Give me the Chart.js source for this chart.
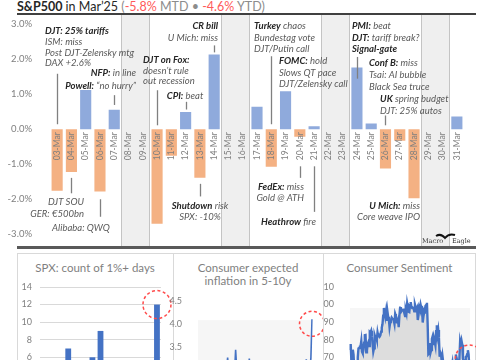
<!DOCTYPE html>
<html>
<head>
<meta charset="utf-8">
<script src="https://cdn.jsdelivr.net/npm/chart.js@4.4.0/dist/chart.umd.min.js"></script>
<style>
  body { margin: 0; width: 485px; height: 360px; overflow: hidden; background: #fff; position: relative; font-family: Lato, sans-serif; }
  canvas, .abs { position: absolute; }
  .rule { background: #404040; }
  .panel { border: 1px solid #d9d9d9; box-sizing: border-box; }
  .ptitle { color: #7f7f7f; font-size: 11.5px; text-align: center; line-height: 13px; }
</style>
</head>
<body>

<div class="abs" style="left:17px;top:-1px;font-size:12.5px;color:#262626;white-space:nowrap">
  <b>S&amp;P500</b> in Mar’25 <span style="color:#8c8c8c">(<span style="color:#ff5a5a">-5.8%</span> MTD • <span style="color:#ff5a5a">-4.6%</span> YTD)</span>
</div>
<div class="abs rule" style="left:17px;top:13px;width:459px;height:2px"></div>
<div class="abs rule" style="left:17px;top:246px;width:459px;height:3px;background:#595959"></div>

<div class="abs panel" style="left:17px;top:253px;width:157px;height:120px"></div>
<div class="abs panel" style="left:173px;top:253px;width:151px;height:120px"></div>
<div class="abs panel" style="left:323px;top:253px;width:153px;height:120px"></div>

<div class="abs ptitle" style="left:17px;top:261px;width:156px">SPX: count of 1%+ days</div>
<div class="abs ptitle" style="left:173px;top:261px;width:150px">Consumer expected<br>inflation in 5-10y</div>
<div class="abs ptitle" style="left:323px;top:261px;width:153px">Consumer Sentiment</div>

<canvas id="mainChart" width="485" height="250" style="left:0;top:0"></canvas>
<canvas id="bigDays" width="156" height="200" style="left:17px;top:253px"></canvas>
<canvas id="inflExp" width="158" height="200" style="left:165px;top:253px"></canvas>
<canvas id="sentiment" width="153" height="200" style="left:323px;top:253px"></canvas>

<script>
// daily S&P500 moves, March 2025 (null = weekend)
const dayLabels = ['03-Mar','04-Mar','05-Mar','06-Mar','07-Mar','08-Mar','09-Mar','10-Mar','11-Mar','12-Mar',
  '13-Mar','14-Mar','15-Mar','16-Mar','17-Mar','18-Mar','19-Mar','20-Mar','21-Mar','22-Mar','23-Mar',
  '24-Mar','25-Mar','26-Mar','27-Mar','28-Mar','29-Mar','30-Mar','31-Mar'];
const dailyReturns = [-1.76, -1.22, 1.12, -1.78, 0.55, null, null, -2.70, -0.76, 0.49,
  -1.39, 2.13, null, null, 0.64, -1.07, 1.08, -0.22, 0.08, null, null,
  1.76, 0.16, -1.12, -0.33, -1.97, null, null, 0.36];
const yTicksMain = [-3, -2, -1, 0, 1, 2, 3];

// event notes: at = day index, v = % level of first line, **bold**
const notes = [
  { at: -0.85, v: 2.81, align: 'left', gap: 10.9, lines: ['**DJT: 25% tariffs**', 'ISM: miss', 'Post DJT-Zelensky mtg', 'DAX +2.6%'] },
  { at: 5.53, v: 1.61, align: 'right', gap: 13, lines: ['**NFP:** in line', '**Powell:** “no hurry”'] },
  { at: 11.27, v: 2.94, align: 'right', gap: 12, lines: ['**CR bill**', 'U Mich: miss'] },
  { at: 6.02, v: 1.97, align: 'left', gap: 10.6, lines: ['**DJT on Fox:**', 'doesn’t rule', 'out recession'] },
  { at: 8.96, v: 0.94, align: 'center', gap: 11, lines: ['**CPI:** beat'] },
  { at: 13.79, v: 2.94, align: 'left', gap: 11.5, lines: ['**Turkey** chaos', 'Bundestag vote', 'DJT/Putin call'] },
  { at: 15.54, v: 1.94, align: 'left', gap: 11.5, lines: ['**FOMC:** hold', 'Slows QT pace', 'DJT/Zelensky call'] },
  { at: 20.65, v: 2.94, align: 'left', gap: 11.5, lines: ['**PMI:** beat', '**DJT:** tariff break?', '**Signal-gate**'] },
  { at: 21.85, v: 1.89, align: 'left', gap: 12, lines: ['**Conf B:** miss', 'Tsai: AI bubble', 'Black Sea truce'] },
  { at: 22.62, v: 0.86, align: 'left', gap: 12, lines: ['**UK** spring budget', 'DJT: 25% autos'] },
  { at: 1.88, v: -2.08, align: 'right', gap: 12, lines: ['DJT SOU', 'GER: €500bn'] },
  { at: 1.67, v: -2.81, align: 'center', gap: 11, lines: ['Alibaba: QWQ'] },
  { at: 10.01, v: -2.19, align: 'center', gap: 11, lines: ['**Shutdown** risk', 'SPX: -10%'] },
  { at: 17.29, v: -1.64, align: 'right', gap: 11, lines: ['**FedEx:** miss', 'Gold @ ATH'] },
  { at: 18.13, v: -2.64, align: 'right', gap: 11, lines: ['**Heathrow** fire'] },
  { at: 25.42, v: -2.19, align: 'right', gap: 11, lines: ['**U Mich:** miss', 'Core weave IPO'] }
];
// leader lines: day index, from %, to %
const leaders = [
  [0, 1.58, 0.14], [4, 0.97, 0.69], [11, 2.39, 2.19], [7, 1.11, 0.11], [9, 0.78, 0.56],
  [15, 2.08, 0.14], [21, 2.06, 1.44], [23, 0.39, 0.11],
  [1, -1.39, -1.83], [3, -2.0, -2.5], [10, -1.56, -1.92], [17, -1.06, -1.39], [18, -1.06, -2.36]
];

// SPX count of 1%+ days per month
const bigDayMonths = ['Jan-24','Feb-24','Mar-24','Apr-24','May-24','Jun-24','Jul-24','Aug-24','Sep-24','Oct-24',
  'Nov-24','Dec-24','Jan-25','Feb-25','Mar-25'];
const bigDayCounts = [2, 1, 0, 7, 3, 1, 6, 9, 4, 3, 3, 4, 5, 3, 12];

// UMich 5-10y inflation expectations, quarterly 2000Q1..2025Q1
const inflQuarters = [];
for (let yr = 2000; yr <= 2025; yr++) for (let q = 1; q <= 4; q++) if (yr < 2025 || q === 1) inflQuarters.push(yr + 'Q' + q);
const inflExpect = [
  2.9, 2.8, 2.7, 2.8,  2.9, 2.8, 2.8, 2.7,  2.8, 2.9, 2.8, 2.7,  2.8, 2.8, 2.7, 2.8,
  2.8, 2.9, 2.9, 2.9,  2.9, 2.9, 3.0, 3.1,  3.0, 3.0, 3.26, 2.9,  2.9, 3.0, 2.9, 3.0,
  2.9, 3.43, 3.0, 2.9,  2.8, 2.9, 2.9, 2.8,  2.9, 2.9, 2.8, 2.8,  2.9, 3.24, 2.9, 2.7,
  2.8, 2.8, 2.8, 2.7,  2.9, 2.8, 2.8, 2.7,  2.8, 2.7, 2.7, 2.6,  2.5, 2.7, 2.6, 2.6,
  2.5, 2.5, 2.4, 2.5,  2.5, 2.5, 2.5, 2.5,  2.5, 2.5, 2.4, 2.5,  2.5, 2.3, 2.3, 2.3,
  2.4, 2.5, 2.6, 2.6,  2.7, 2.9, 2.9, 2.9,  3.0, 3.1, 2.8, 2.9,  2.9, 3.0, 3.0, 3.22,
  2.9, 3.0, 3.0, 3.24,  4.1
];

// UMich consumer sentiment, monthly Jan-2011..Mar-2025
const sentiment = [
  74.2, 77.5, 67.5, 69.8, 74.3, 71.5, 63.7, 55.8, 59.5, 60.8, 63.7, 69.9,
  75.0, 75.3, 76.2, 76.4, 79.3, 73.2, 72.3, 74.3, 78.3, 82.6, 82.7, 72.9,
  73.8, 77.6, 78.6, 76.4, 84.5, 84.1, 85.1, 82.1, 77.5, 73.2, 75.1, 82.5,
  81.2, 81.6, 80.0, 84.1, 81.9, 82.5, 81.8, 82.5, 84.6, 86.9, 88.8, 93.6,
  98.1, 95.4, 93.0, 95.9, 90.7, 96.1, 93.1, 91.9, 87.2, 90.0, 91.3, 92.6,
  92.0, 91.7, 91.0, 89.0, 94.7, 93.5, 90.0, 89.8, 91.2, 87.2, 93.8, 98.2,
  98.5, 96.3, 96.9, 97.0, 97.1, 95.0, 93.4, 96.8, 95.1, 100.7, 98.5, 95.9,
  95.7, 99.7, 101.4, 98.8, 98.0, 98.2, 97.9, 96.2, 100.1, 98.6, 97.5, 98.3,
  91.2, 93.8, 98.4, 97.2, 100.0, 98.2, 98.4, 89.8, 93.2, 95.5, 96.8, 99.3,
  99.8, 101.0, 89.1, 71.8, 72.3, 78.1, 72.5, 74.1, 80.4, 81.8, 76.9, 80.7,
  79.0, 76.8, 84.9, 88.3, 82.9, 85.5, 81.2, 70.3, 72.8, 71.7, 67.4, 70.6,
  67.2, 62.8, 59.4, 65.2, 58.4, 50.0, 51.5, 58.2, 58.6, 59.9, 56.8, 59.7,
  64.9, 67.0, 62.0, 63.5, 59.0, 64.4, 71.6, 69.5, 67.9, 63.8, 61.3, 69.7,
  79.0, 76.9, 79.4, 77.2, 69.1, 68.2, 66.4, 67.9, 70.1, 70.5, 71.8, 74.0,
  71.7, 64.7, 57.0
];
const sentMonths = sentiment.map((_, i) => (2011 + Math.floor(i / 12)) + '-' + String(i % 12 + 1).padStart(2, '0'));

const FONT = 'Lato, sans-serif';
const GREY = '#7f7f7f';
const POS = '#8faadc';
const NEG = '#f4b183';

function catPx(xs, idx) {
  const a = xs.getPixelForValue(0), b = xs.getPixelForValue(1);
  return a + idx * (b - a);
}

// weekend bands behind the bars
const weekendPlugin = {
  id: 'weekends',
  beforeDatasetsDraw(chart) {
    const { ctx, scales: { x } } = chart;
    const w = catPx(x, 1) - catPx(x, 0);
    ctx.save();
    let i = 0;
    while (i < dailyReturns.length) {
      if (dailyReturns[i] !== null) { i++; continue; }
      let j = i;
      while (j + 1 < dailyReturns.length && dailyReturns[j + 1] === null) j++;
      const l = catPx(x, i) - w / 2, r = catPx(x, j) + w / 2;
      ctx.fillStyle = '#efefef';
      ctx.fillRect(l, 15, r - l, 231);
      ctx.strokeStyle = '#c4c4c4';
      ctx.lineWidth = 1;
      ctx.beginPath();
      ctx.moveTo(Math.round(l) + 0.5, 15); ctx.lineTo(Math.round(l) + 0.5, 246);
      ctx.moveTo(Math.round(r) - 0.5, 15); ctx.lineTo(Math.round(r) - 0.5, 246);
      ctx.stroke();
      i = j + 1;
    }
    ctx.restore();
  }
};

function drawRich(ctx, text, x, y, align) {
  const parts = text.split('**');
  const segs = parts.map((t, k) => ({ t, bold: k % 2 === 1 })).filter(s => s.t.length);
  const fontOf = s => (s.bold ? 'italic bold ' : 'italic ') + '9.5px ' + FONT;
  let total = 0;
  segs.forEach(s => { ctx.font = fontOf(s); s.w = ctx.measureText(s.t).width; total += s.w; });
  let cx = align === 'left' ? x : align === 'right' ? x - total : x - total / 2;
  segs.forEach(s => {
    ctx.font = fontOf(s);
    ctx.fillStyle = s.bold ? '#262626' : '#595959';
    ctx.fillText(s.t, cx, y);
    cx += s.w;
  });
}

const overlayPlugin = {
  id: 'overlay',
  afterDatasetsDraw(chart) {
    const { ctx, scales: { x, y } } = chart;
    const y0 = y.getPixelForValue(0);
    ctx.save();
    // day labels sitting on the zero line
    ctx.font = '8.5px ' + FONT;
    ctx.fillStyle = GREY;
    ctx.textAlign = 'right';
    ctx.textBaseline = 'middle';
    dayLabels.forEach((lab, i) => {
      ctx.save();
      ctx.translate(catPx(x, i), y0 + 3);
      ctx.rotate(-Math.PI / 2);
      ctx.fillText(lab, 0, 0);
      ctx.restore();
    });
    // leader lines
    ctx.strokeStyle = '#808080';
    ctx.lineWidth = 1.3;
    leaders.forEach(([i, a, b]) => {
      const px = Math.round(catPx(x, i)) + 0.5;
      ctx.beginPath();
      ctx.moveTo(px, y.getPixelForValue(a));
      ctx.lineTo(px, y.getPixelForValue(b));
      ctx.stroke();
    });
    // notes
    ctx.textAlign = 'left';
    notes.forEach(n => {
      const px = catPx(x, n.at);
      const py = y.getPixelForValue(n.v);
      n.lines.forEach((ln, k) => drawRich(ctx, ln, px, py + k * n.gap, n.align));
    });
    // Macro Eagle tag
    ctx.fillStyle = '#333';
    ctx.font = '6.5px "DejaVu Serif", serif';
    ctx.fillText('Macro', 422, 241);
    ctx.fillText('Eagle', 452, 241);
    ctx.beginPath();
    ctx.moveTo(436, 236);
    ctx.quadraticCurveTo(441, 233, 445, 238);
    ctx.quadraticCurveTo(449, 233, 455, 235);
    ctx.lineWidth = 2;
    ctx.strokeStyle = '#111';
    ctx.stroke();
    ctx.restore();
  }
};

new Chart(document.getElementById('mainChart'), {
  type: 'bar',
  data: {
    labels: dayLabels,
    datasets: [{
      data: dailyReturns,
      backgroundColor: dailyReturns.map(v => (v !== null && v >= 0 ? POS : NEG)),
      barPercentage: 0.78,
      categoryPercentage: 1
    }]
  },
  options: {
    responsive: false,
    animation: false,
    layout: { padding: { top: 24, right: 21, bottom: 10, left: 0 } },
    plugins: { legend: { display: false }, tooltip: { enabled: false } },
    scales: {
      x: { display: false },
      y: {
        min: -3, max: 3,
        afterBuildTicks: s => { s.ticks = yTicksMain.map(v => ({ value: v })); },
        afterFit: s => { s.width = 50; },
        ticks: { padding: 10, color: GREY, font: { family: FONT, size: 9.5 }, callback: v => v.toFixed(1) + '%' },
        grid: { display: false },
        border: { display: false }
      }
    }
  },
  plugins: [weekendPlugin, overlayPlugin]
});

// dashed red ring around a point
const ringPlugin = {
  id: 'ring',
  afterDatasetsDraw(chart, args, opts) {
    const { ctx, scales: { x, y } } = chart;
    ctx.save();
    ctx.strokeStyle = '#ff4b4b';
    ctx.lineWidth = 1.5;
    ctx.setLineDash([3, 2.5]);
    ctx.beginPath();
    ctx.arc(catPx(x, opts.index), y.getPixelForValue(opts.value), opts.r, 0, Math.PI * 2);
    ctx.stroke();
    ctx.restore();
  }
};
// faint plot fill
const shadePlugin = {
  id: 'shade',
  beforeDatasetsDraw(chart, args, opts) {
    if (opts.from === undefined) return;
    const { ctx, chartArea: a, scales: { y } } = chart;
    ctx.save();
    ctx.fillStyle = '#f6f6f6';
    const top = y.getPixelForValue(opts.from);
    ctx.fillRect(a.left, top, a.right - a.left, a.bottom - top);
    ctx.restore();
  }
};

const smallTicks = { color: GREY, font: { family: FONT, size: 9 }, padding: 8 };

new Chart(document.getElementById('bigDays'), {
  type: 'bar',
  data: { labels: bigDayMonths, datasets: [{ data: bigDayCounts, backgroundColor: '#4472c4', barPercentage: 0.72, categoryPercentage: 1 }] },
  options: {
    responsive: false, animation: false,
    layout: { padding: { top: 34, right: 12, bottom: 43, left: 0 } },
    plugins: { legend: { display: false }, tooltip: { enabled: false }, ring: { index: 14, value: 12, r: 14 } },
    scales: {
      x: { display: false },
      y: { min: 0, max: 14, afterFit: s => { s.width = 23; }, ticks: { ...smallTicks, stepSize: 2 },
           grid: { color: '#d9d9d9', drawTicks: false }, border: { display: false } }
    }
  },
  plugins: [ringPlugin]
});

new Chart(document.getElementById('inflExp'), {
  type: 'line',
  data: { labels: inflQuarters, datasets: [{ data: inflExpect, borderColor: '#4472c4', borderWidth: 1.6, pointRadius: 0, tension: 0 }] },
  options: {
    responsive: false, animation: false,
    layout: { padding: { top: 48, right: 11, bottom: 38, left: 0 } },
    plugins: { legend: { display: false }, tooltip: { enabled: false },
      ring: { index: inflExpect.length - 1, value: 4.0, r: 12.5 }, shade: { from: 4.08 } },
    scales: {
      x: { display: false },
      y: { min: 2, max: 4.5, afterFit: s => { s.width = 33; },
           ticks: { ...smallTicks, stepSize: 0.5, callback: v => v.toFixed(1) },
           grid: { display: false }, border: { display: false } }
    }
  },
  plugins: [shadePlugin, ringPlugin]
});

new Chart(document.getElementById('sentiment'), {
  type: 'line',
  data: { labels: sentMonths, datasets: [{ data: sentiment, borderColor: '#4472c4', borderWidth: 2.4, pointRadius: 0, tension: 0,
    fill: 'start', backgroundColor: 'rgba(200,200,200,0.55)' }] },
  options: {
    responsive: false, animation: false,
    layout: { padding: { top: 34, right: 6, bottom: 43, left: 0 } },
    plugins: { legend: { display: false }, tooltip: { enabled: false }, filler: { propagate: false },
      ring: { index: 169, value: 69, r: 14 }, shade: { from: 98 } },
    scales: {
      x: { display: false },
      y: { min: 40, max: 110, afterFit: s => { s.width = 27; }, ticks: { ...smallTicks, stepSize: 10 },
           grid: { display: false }, border: { display: false } }
    }
  },
  plugins: [shadePlugin, ringPlugin]
});
</script>
</body>
</html>
